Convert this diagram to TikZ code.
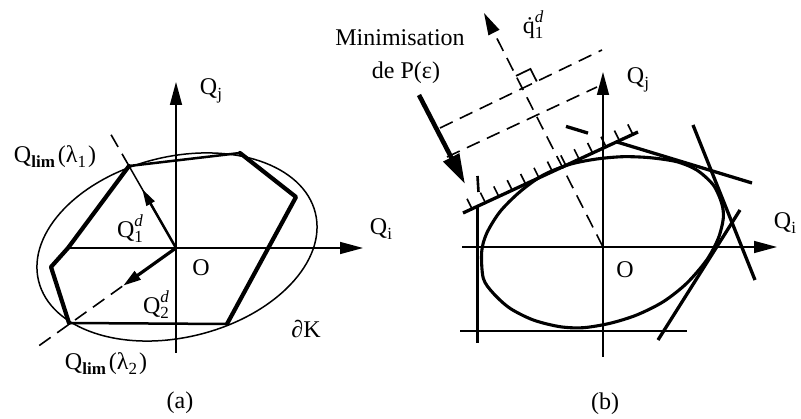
\documentclass[tikz,border=0pt]{standalone}
\usepackage{fontspec}
\setmainfont{Liberation Serif}
\usetikzlibrary{arrows.meta,calc}
\newcommand\lsub[1]{\raisebox{-0.45ex}{\fontsize{17}{17}\selectfont #1}}
\newcommand\qsubsup[3]{#1\rlap{\raisebox{-0.5ex}{\fontsize{17}{17}\selectfont #2}}\raisebox{0.95ex}{\fontsize{17}{17}\selectfont\itshape #3}}
\begin{document}
\begin{tikzpicture}[x=1pt,y=-1pt,
  lbl/.style={inner sep=0pt, font=\fontsize{24}{26}\selectfont},
  axis/.style={line width=1.5pt, -{Triangle[length=23pt,width=12pt]}},
  thinln/.style={line width=1.5pt},
  thickln/.style={line width=4.2pt, line join=round, line cap=round},
  medln/.style={line width=2.5pt},
  dashln/.style={line width=1.6pt, dash pattern=on 14pt off 8pt},
  tang/.style={line width=3.3pt},
]
\useasboundingbox (0,0) rectangle (801,419);

% ---------------- panel (a) ----------------
\coordinate (Oa) at (176,248);
\coordinate (Ea) at (177,247);
\coordinate (P1) at (129,166);
\coordinate (P2) at (240,153);
\coordinate (P3) at (296,197);
\coordinate (P4) at (227,324);
\coordinate (P5) at (69,323);
\coordinate (P6) at (51,267);
\coordinate (P7) at (68,248);
\coordinate (D2) at (33,350);

\draw[thinln, rotate around={13.8:(Ea)}] (Ea) ellipse [x radius=142.5pt, y radius=90.3pt];

\coordinate (xa1) at (363,248);
\coordinate (ya0) at (176,353);
\coordinate (ya1) at (176,82);
\draw[axis] (P7) -- (xa1);
\draw[axis] (ya0) -- (ya1);

\draw[dashln] (Oa) -- (D2);
\draw[dashln] (P1) -- ($(Oa)!1.46!(P1)$);
\draw[thinln] (Oa) -- (P1);

\draw[medln] (P1) -- (P2);
\draw[medln] (P5) -- (P4);
\draw[thickln] (P1) -- (P7) -- (P6) -- (P5);
\draw[thickln] (P4) -- (P3) -- (P2);

\draw[line width=2.5pt, -{Triangle[length=17pt,width=9pt]}] (Oa) -- ($(Oa)!0.72!(P1)$);
\draw[line width=3.2pt, -{Triangle[length=18pt,width=10pt]}] (Oa) -- ($(Oa)!0.37!(D2)$);

\node[lbl] (lq1) at (55,157) {Q\lsub{\bfseries lim}\hspace{3pt}(λ\lsub{1}\hspace{2pt})};
\node[lbl] (lq2) at (106,364) {Q\lsub{\bfseries lim}\hspace{3pt}(λ\lsub{2}\hspace{2pt})};
\node[lbl] (lqj) at (211,91) {Q\lsub{j}};
\node[lbl] (lqi) at (381,229) {Q\lsub{i}};
\node[lbl] (lq1d) at (130,229) {\qsubsup{Q}{1}{d}};
\node[lbl] (lq2d) at (156,305) {\qsubsup{Q}{2}{d}};
\node[lbl] (lOa) at (201,268) {O};
\node[lbl] (ldK) at (306,329) {∂K};
\node[lbl] (capa) at (180,403) {(a)};

% ---------------- panel (b) ----------------
\coordinate (Ob) at (603,247);
\coordinate (xb0) at (462,247);
\coordinate (xb1) at (777,247);
\coordinate (yb0) at (603,357);
\coordinate (yb1) at (603,72);

% dashed construction
\coordinate (qtip) at (484,13);
\coordinate (U1) at (440,128);
\coordinate (U2) at (602,50);
\coordinate (L1) at (447,157);
\coordinate (L2) at (597,87);
\draw[dashln] (U1) -- (U2);
\draw[dashln] (L1) -- (L2);
\draw[dashln, -{Triangle[length=22pt,width=12pt]}] (Ob) -- (qtip);
\coordinate (I) at (intersection of Ob--qtip and U1--U2);
\coordinate (ra1) at ($(I)!14pt!(qtip)$);
\coordinate (ra2) at ($(I)!16pt!(U2)$);
\draw[line width=1.7pt] (ra1) -- ($(ra1)+(ra2)-(I)$) -- (ra2);

% axes
\draw[axis] (xb0) -- (xb1);
\draw[axis] (yb0) -- (yb1);

% convex set
\draw[line width=3.1pt] plot[smooth cycle] coordinates {
 (481.7,251.7) (486.7,233.3) (500,211.7) (520,191.7) (543.3,175) (570,164.3)
 (596.7,159) (623.3,156.7) (650,157.7) (676.7,161.7) (696.7,170) (713.3,185)
 (721.7,203.3) (723.3,218.3) (718.3,238.3) (706.7,260) (686.7,283.3)
 (663.3,301.7) (636.7,315) (610,323.3) (583.3,327.7) (560,326.7) (533.3,320)
 (510,308.3) (493.3,293.3) (483.3,278.3)};

% tangent constraints
\coordinate (H1) at (463,213);
\coordinate (H2) at (638,132);
\draw[tang] (H1) -- (H2);
\foreach \k in {0,...,12}
  \draw[line width=1.6pt] ($(472,208.8)!\k/12!(632.8,134.4)$) -- ++(-5,-10);
\coordinate (T1a) at (617,142);
\coordinate (T1b) at (752,183);
\draw[tang] (T1a) -- (T1b);
\coordinate (T1c) at (566,126.4);
\coordinate (T1d) at (588,133.1);
\draw[tang] (T1c) -- (T1d);
\coordinate (T2a) at (693,125);
\coordinate (T2b) at (755,280);
\draw[tang] (T2a) -- (T2b);
\coordinate (T3a) at (740,210);
\coordinate (T3b) at (658,340);
\draw[tang] (T3a) -- (T3b);
\coordinate (Ba) at (460,331);
\coordinate (Bb) at (687,331);
\draw[line width=2.6pt] (Ba) -- (Bb);
\coordinate (La) at (477.5,207);
\coordinate (Lb) at (477.5,343);
\draw[line width=2.6pt] (La) -- (Lb);
\coordinate (Lc) at (477.5,176);
\coordinate (Ld) at (478.5,192);
\draw[line width=2.6pt] (Lc) -- (Ld);

% minimisation arrow
\coordinate (M0) at (419,95);
\coordinate (M1) at (465,184);
\draw[line width=4.6pt, -{Triangle[length=30pt,width=17pt]}] (M0) -- (M1);

\node[lbl] (lmin) at (400,38) {Minimisation};
\node[lbl] (lde) at (406,73) {de P(ε)};
\node[lbl] (lqdot) at (533,25) {\qsubsup{\.{q}}{1}{d}};
\node[lbl] (lqjb) at (638,80) {Q\lsub{j}};
\node[lbl] (lqib) at (785,223) {Q\lsub{i}};
\node[lbl] (lOb) at (625,270) {O};
\node[lbl] (capb) at (605,404) {(b)};
\end{tikzpicture}
\end{document}
